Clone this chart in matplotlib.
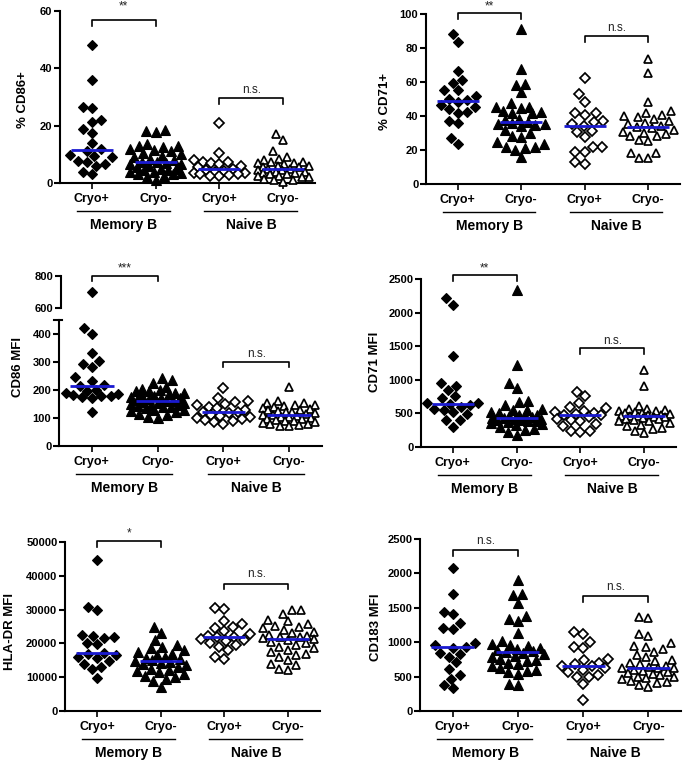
import matplotlib
matplotlib.use('Agg')
import matplotlib.pyplot as plt
import numpy as np

plt.rcParams['font.family'] = ['Liberation Sans', 'DejaVu Sans']

# ---------------- data ----------------
categories = ['Cryo+', 'Cryo-', 'Cryo+', 'Cryo-']
groups = ['Memory B', 'Naive B']

cd86_pct_mem_pos = [48.3, 36.1, 26.6, 26.0, 21.9, 21.3, 19.0, 17.5, 14.0, 11.8, 11.3, 9.8, 9.3, 9.0, 7.8, 7.2, 6.5, 6.0, 3.8, 3.0]
cd86_pct_mem_neg = [18.5, 18.0, 17.8, 13.5, 13.0, 12.8, 12.5, 12.0, 11.5, 11.0, 10.5, 10.0, 9.5, 9.0, 8.5, 8.0, 7.5, 7.2,
                    7.0, 6.8, 6.5, 6.0, 5.5, 5.0, 5.0, 4.5, 4.5, 4.0, 4.0, 3.5, 3.0, 3.0, 2.5, 2.0, 1.0]
cd86_pct_nai_pos = [20.8, 10.5, 8.0, 7.5, 7.5, 7.0, 6.5, 6.0, 5.5, 5.0, 4.5, 4.2, 4.0, 3.5, 3.5, 3.0, 3.0, 2.8, 2.5, 2.5]
cd86_pct_nai_neg = [17.2, 15.0, 11.2, 9.0, 8.5, 8.0, 7.5, 7.5, 7.0, 7.0, 6.5, 6.0, 6.0, 5.5, 5.5, 5.0, 5.0, 4.5, 4.5,
                    4.0, 4.0, 3.5, 3.5, 3.0, 3.0, 2.5, 2.5, 2.0, 2.0, 1.5, 1.0, 1.0, 0.5]

cd71_pct_mem_pos = [88.4, 83.5, 66.6, 60.9, 59.7, 55.0, 55.0, 51.5, 50.0, 49.5, 48.5, 46.6, 45.2, 44.2, 42.2, 41.6, 37.3, 35.8, 27.3, 23.4]
cd71_pct_mem_neg = [91.0, 67.5, 59.0, 58.5, 54.0, 47.5, 45.5, 45.0, 44.5, 43.0, 42.5, 42.0, 41.5, 38.0, 37.5, 36.5,
                    36.0, 35.5, 35.0, 34.5, 34.0, 32.0, 30.0, 28.0, 27.5, 24.5, 23.5, 22.0, 21.5, 21.0, 20.0, 16.0]
cd71_pct_nai_pos = [62.3, 53.0, 48.5, 42.0, 41.5, 40.5, 37.0, 36.5, 35.5, 34.0, 31.0, 30.5, 27.5, 21.5, 21.5, 19.0, 18.7, 13.0, 12.0]
cd71_pct_nai_neg = [73.5, 65.0, 48.5, 43.0, 42.0, 40.5, 40.0, 39.5, 38.5, 37.0, 36.0, 35.0, 34.0, 33.5, 33.0, 32.0,
                    30.5, 30.0, 29.5, 28.5, 28.0, 26.0, 25.5, 18.5, 18.5, 15.5, 15.5]

cd86_mfi_mem_pos = [700, 420, 400, 333, 304, 293, 281, 245, 233, 218, 215, 200, 195, 188, 185, 182, 180, 178, 175, 172, 120]
cd86_mfi_mem_neg = [242, 236, 225, 210, 205, 200, 198, 195, 190, 188, 185, 180, 178, 175, 172, 170, 168, 165, 162,
                    160, 158, 155, 152, 150, 148, 145, 142, 140, 138, 135, 130, 128, 125, 120, 115, 110, 105, 100]
cd86_mfi_nai_pos = [208, 170, 160, 156, 150, 145, 140, 135, 128, 122, 120, 118, 112, 108, 104, 100, 95, 92, 88, 84, 80]
cd86_mfi_nai_neg = [212, 162, 155, 152, 148, 145, 142, 140, 135, 132, 130, 128, 125, 122, 120, 118, 115, 112,
                    110, 108, 105, 102, 100, 98, 95, 92, 90, 88, 85, 82, 80, 78, 75, 72, 70]

cd71_mfi_mem_pos = [2216, 2117, 1360, 946, 906, 847, 757, 722, 660, 650, 640, 620, 600, 563, 548, 523, 488, 400, 395, 300]
cd71_mfi_mem_neg = [2340, 1220, 946, 871, 687, 672, 620, 570, 555, 545, 520, 500, 480, 470, 460, 450, 440, 430,
                    425, 420, 410, 400, 395, 390, 380, 370, 360, 340, 320, 300, 270, 250, 230, 174]
cd71_mfi_nai_pos = [812, 762, 662, 598, 580, 540, 520, 500, 490, 483, 470, 450, 420, 398, 380, 349, 314, 239, 234, 224]
cd71_mfi_nai_neg = [1145, 906, 612, 570, 560, 550, 540, 530, 520, 510, 500, 490, 480, 470, 465, 460, 455, 450,
                    440, 430, 420, 410, 400, 390, 380, 360, 330, 310, 290, 270, 240, 210]

hla_mfi_mem_pos = [44600, 30800, 30000, 22400, 22300, 21800, 21500, 20000, 19700, 17200, 17000, 16500, 16000,
                   15700, 14800, 14000, 13100, 12300, 9900]
hla_mfi_mem_neg = [24900, 23100, 21000, 19500, 19000, 18500, 18000, 17500, 17000, 16500, 16000, 15800, 15500, 15000,
                   14800, 14500, 14300, 14000, 13500, 13000, 12500, 12000, 11800, 11500, 11000, 10500, 10000, 9500, 8950, 7200]
hla_mfi_nai_pos = [30500, 30100, 26600, 25600, 24900, 24700, 23800, 22800, 22300, 22000, 21900, 21200, 20960,
                   20800, 20000, 19500, 19000, 18000, 16000, 15350]
hla_mfi_nai_neg = [30000, 29800, 28800, 27000, 26500, 25800, 25200, 25000, 24500, 24000, 23500, 23000, 22500, 22200,
                   22000, 21800, 21500, 21200, 21000, 20500, 20000, 19500, 19000, 18500, 18000, 17500, 17000, 16500,
                   16000, 15000, 14000, 13500, 12400, 12000]

cd183_mfi_mem_pos = [2077, 1698, 1445, 1405, 1284, 1200, 1190, 982, 960, 934, 920, 837, 830, 788, 705, 608, 520, 472, 375, 336]
cd183_mfi_mem_neg = [1907, 1702, 1690, 1576, 1381, 1342, 1313, 1128, 1017, 980, 960, 940, 920, 900, 890, 870, 860,
                     850, 830, 800, 780, 760, 740, 720, 700, 680, 650, 620, 600, 580, 560, 540, 399, 375]
cd183_mfi_nai_pos = [1153, 1119, 1007, 924, 910, 760, 740, 700, 680, 660, 650, 620, 600, 560, 520, 496, 490, 389, 156]
cd183_mfi_nai_neg = [1372, 1347, 1119, 1090, 982, 950, 930, 900, 860, 820, 780, 740, 720, 700, 680, 660, 640, 630,
                     625, 620, 600, 580, 560, 550, 540, 520, 500, 490, 480, 460, 440, 420, 400, 380, 350]

y_labels = ['% CD86+', '% CD71+', 'CD86 MFI', 'CD71 MFI', 'HLA-DR MFI', 'CD183 MFI']
sig_memory = ['**', '**', '***', '**', '*', 'n.s.']
sig_naive = ['n.s.', 'n.s.', 'n.s.', 'n.s.', 'n.s.', 'n.s.']

# ---------------- drawing ----------------
W, H = 686, 763
fig = plt.figure(figsize=(W / 100, H / 100), dpi=100)

BLUE = '#1a1ad0'
marker_specs = [
    dict(marker='D', ms=5.4, mfc='black', mec='black', mew=0.8),
    dict(marker='^', ms=6.6, mfc='black', mec='black', mew=0.8),
    dict(marker='D', ms=5.4, mfc='white', mec='black', mew=1.25),
    dict(marker='^', ms=6.4, mfc='white', mec='black', mew=1.25),
]


def add_ax(left, right, top, bottom):
    return fig.add_axes([left / W, 1 - bottom / H, (right - left) / W, (bottom - top) / H])


def style_ax(ax, yticks, bottom=True):
    for s in ['top', 'right']:
        ax.spines[s].set_visible(False)
    ax.spines['left'].set_linewidth(1.5)
    ax.spines['bottom'].set_linewidth(1.5)
    if not bottom:
        ax.spines['bottom'].set_visible(False)
    ax.set_yticks(yticks)
    ax.tick_params(axis='y', length=4, width=1.5, labelsize=8, pad=1.5)
    for t in ax.get_yticklabels():
        t.set_fontweight('bold')
    ax.set_xlim(-0.5, 3.5)


def swarm_offsets(ax, xc, vals, size_px=9.5, maxw=0.4):
    pts = ax.transData.transform(np.column_stack([np.full(len(vals), xc), vals]))
    ys = pts[:, 1]
    px_per_x = ax.transData.transform((1, 0))[0] - ax.transData.transform((0, 0))[0]
    lim = maxw * px_per_x
    grid = np.linspace(-lim, lim, 49)
    order = np.argsort(ys)
    placed = []
    offs = np.zeros(len(vals))
    for i in order:
        y = ys[i]
        cands = [0.0]
        for (px, py) in placed:
            dy = y - py
            if abs(dy) < size_px:
                d = np.sqrt(size_px ** 2 - dy ** 2)
                cands += [px + d, px - d]
        cands = [c for c in cands if abs(c) <= lim + 1e-6]
        cands = sorted(cands, key=lambda c: (abs(c), c))
        chosen = None
        for c in cands:
            ok = True
            for (px, py) in placed:
                if (c - px) ** 2 + (y - py) ** 2 < size_px ** 2 - 1e-6:
                    ok = False
                    break
            if ok:
                chosen = c
                break
        if chosen is None:
            best, bestd = 0.0, -1
            for c in grid:
                dmin = min(np.hypot(c - px, y - py) for (px, py) in placed)
                if dmin > bestd + 1e-9:
                    best, bestd = c, dmin
            chosen = best
        offs[i] = chosen
        placed.append((chosen, y))
    return offs / px_per_x


def draw_group(ax, k, vals, size_px=9.5):
    vals = np.asarray(vals, dtype=float)
    dx = swarm_offsets(ax, k, vals, size_px)
    ax.plot(k + dx, vals, ls='none', clip_on=False, zorder=3, **marker_specs[k])


def draw_median(ax, k, vals):
    m = np.median(vals)
    ax.plot([k - 0.33, k + 0.33], [m, m], color=BLUE, lw=2.0, zorder=4, solid_capstyle='butt')


def bracket(ax, x0, x1, ytop, yarm, ytext, label):
    ax.plot([x0, x0, x1, x1], [yarm, ytop, ytop, yarm], color='black', lw=1.2, clip_on=False, zorder=5)
    ax.text((x0 + x1) / 2, ytext, label, ha='center', va='center', fontsize=8.5, color='#222222', clip_on=False)


def xaxis_decor(ax, ax_h_px):
    ax.set_xticks([0, 1, 2, 3])
    ax.set_xticklabels(categories, fontsize=9, fontweight='bold')
    ax.tick_params(axis='x', length=4, width=1.2, pad=3)
    tr = ax.get_xaxis_transform()
    yl = -28 / ax_h_px
    yt = -42 / ax_h_px
    for g, (a, b) in enumerate([(0, 1), (2, 3)]):
        ax.plot([a - 0.24, b + 0.22], [yl, yl], color='black', lw=1.0, transform=tr, clip_on=False)
        ax.text((a + b) / 2, yt, groups[g], transform=tr, ha='center', va='center',
                fontsize=10, fontweight='bold')


def ylabel(xpx, ypx, txt):
    fig.text(xpx / W, 1 - ypx / H, txt, rotation=90, ha='center', va='center', fontsize=9.5, fontweight='bold')


# standard panels: (data arrays, left, right, top, bottom, ylim, yticks, brackets)
panels = [
    ([cd86_pct_mem_pos, cd86_pct_mem_neg, cd86_pct_nai_pos, cd86_pct_nai_neg], 60, 315, 11, 183, 60,
     [0, 20, 40, 60], (56.9, 54.8, 61.5), (29.8, 27.7, 32.6), (23, 100)),
    ([cd71_pct_mem_pos, cd71_pct_mem_neg, cd71_pct_nai_pos, cd71_pct_nai_neg], 426, 680, 14, 184, 100,
     [0, 20, 40, 60, 80, 100], (100.6, 97.2, 104.5), (86.8, 83.3, 91.5), (385, 102)),
    None,
    ([cd71_mfi_mem_pos, cd71_mfi_mem_neg, cd71_mfi_nai_pos, cd71_mfi_nai_neg], 421, 676, 279, 447, 2500,
     [0, 500, 1000, 1500, 2000, 2500], (2555, 2465, 2664), (1469, 1384, 1579), (375, 362)),
    ([hla_mfi_mem_pos, hla_mfi_mem_neg, hla_mfi_nai_pos, hla_mfi_nai_neg], 65, 320, 542, 711, 50000,
     [0, 10000, 20000, 30000, 40000, 50000], (50300, 48500, 52460), (37700, 36000, 40450), (10, 632)),
    ([cd183_mfi_mem_pos, cd183_mfi_mem_neg, cd183_mfi_nai_pos, cd183_mfi_nai_neg], 420, 681, 539, 711, 2500,
     [0, 500, 1000, 1500, 2000, 2500], (2344, 2257, 2466), (1678, 1590, 1809), (376, 627)),
]

for p, spec in enumerate(panels):
    if spec is None:
        continue
    data, l, r, t, b, ymax, yt, bm, bn, lab = spec
    ax = add_ax(l, r, t, b)
    ax.set_ylim(0, ymax)
    style_ax(ax, yt)
    for k in range(4):
        draw_group(ax, k, data[k])
        draw_median(ax, k, data[k])
    bracket(ax, 0, 1, *bm, sig_memory[p])
    bracket(ax, 2, 3, *bn, sig_naive[p])
    xaxis_decor(ax, b - t)
    ylabel(lab[0], lab[1], y_labels[p])

# broken-axis panel (CD86 MFI)
data = [cd86_mfi_mem_pos, cd86_mfi_mem_neg, cd86_mfi_nai_pos, cd86_mfi_nai_neg]
BREAK = 600
axl = add_ax(59, 322, 320, 446)
axl.set_ylim(0, 450)
style_ax(axl, [0, 100, 200, 300, 400])
axu = add_ax(61, 322, 276, 308)
axu.set_xlim(-0.5 + 2 / 65.75, 3.5)
axu.set_ylim(600, 800)
style_ax(axu, [600, 800], bottom=False)
axu.set_xlim(-0.5 + 2 / 65.75, 3.5)
axu.set_xticks([])
axu.patch.set_alpha(0)
# cap tick at top of lower segment
axl.plot([-0.5 - 0.07, -0.5 + 0.05], [450, 450], color='black', lw=1.5, clip_on=False)
for k in range(4):
    vals = np.asarray(data[k], dtype=float)
    lo = vals[vals < BREAK]
    hi = vals[vals >= BREAK]
    draw_group(axl, k, lo)
    if len(hi):
        draw_group(axu, k, hi)
    draw_median(axl, k, vals)
bracket(axu, 0, 1, 800, 768, 848, sig_memory[2])
bracket(axl, 2, 3, 301, 281, 329, sig_naive[2])
xaxis_decor(axl, 446 - 320)
ylabel(18, 367, y_labels[2])

fig.savefig('out.png', dpi=100)
